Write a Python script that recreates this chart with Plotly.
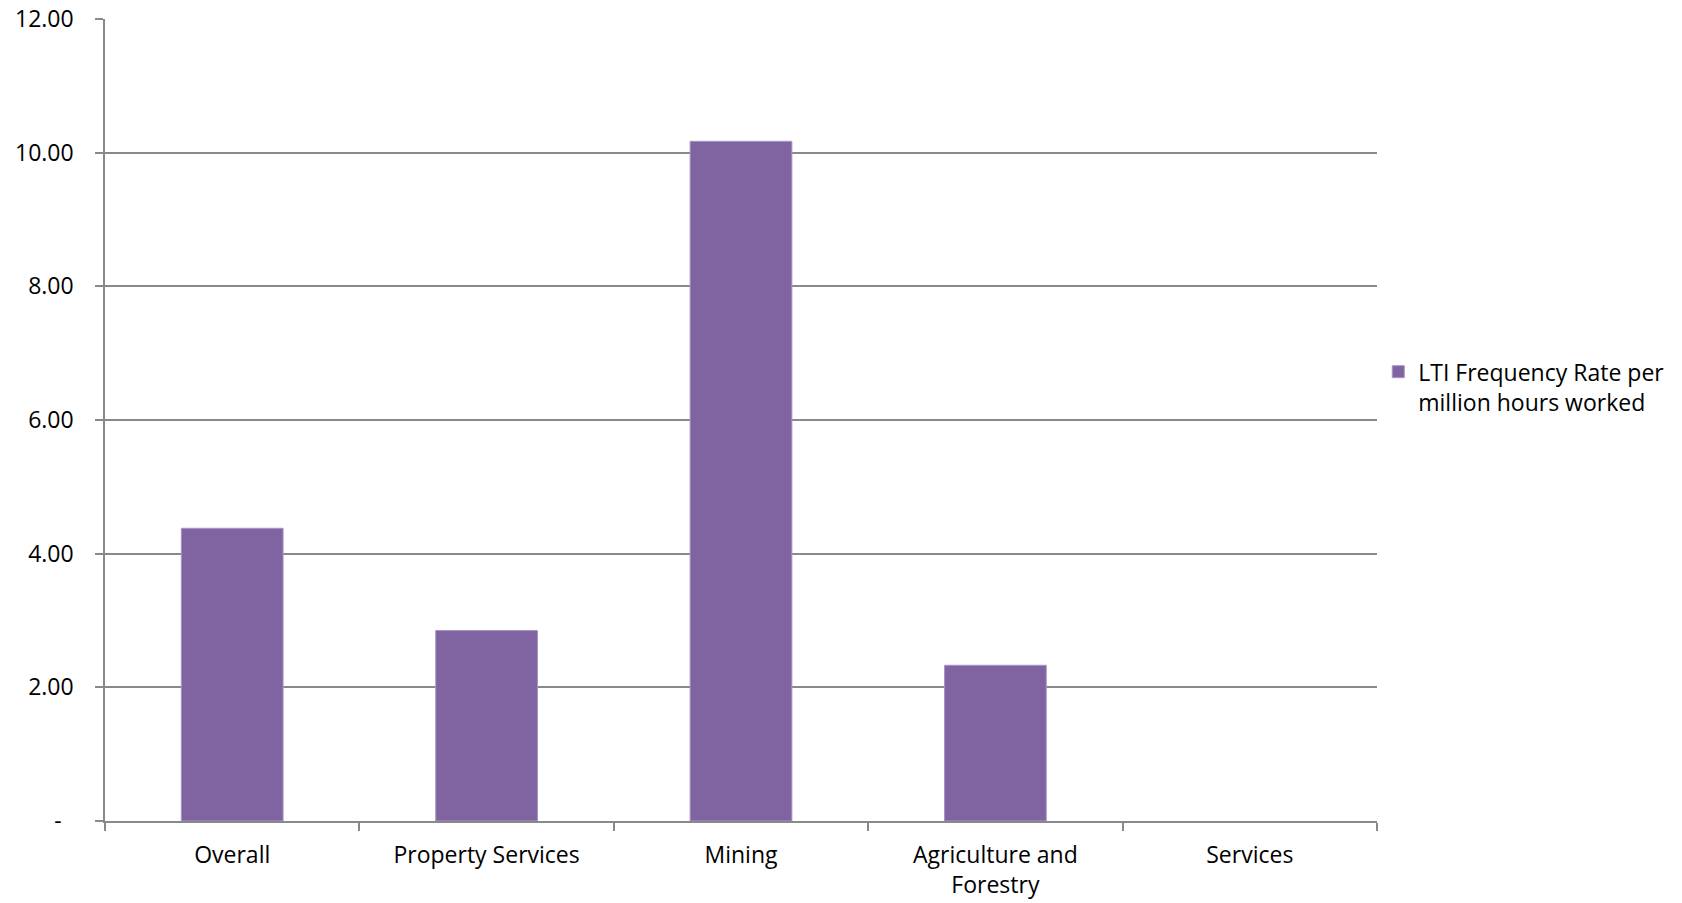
import plotly.graph_objects as go

categories = ["Overall", "Property Services", "Mining", "Agriculture and<br>Forestry", "Services"]
lti_rate = [4.38, 2.85, 10.17, 2.33, 0.0]
series_name = "LTI Frequency Rate per<br>million hours worked"
y_tickvals = [0, 2, 4, 6, 8, 10, 12]
y_ticktext = ["-\u00a0\u00a0", "2.00", "4.00", "6.00", "8.00", "10.00", "12.00"]

FONT = "Open Sans"
FS = 23
GRID = "#898989"

fig = go.Figure()
fig.add_trace(go.Bar(
    x=categories, y=lti_rate, name=series_name,
    marker=dict(color="#8064A2",
                line=dict(color="#A896C4", width=[1 if v > 0 else 0 for v in lti_rate])),
    showlegend=True,
))

fig.update_layout(
    width=1682, height=903,
    paper_bgcolor="white", plot_bgcolor="white",
    margin=dict(l=105, r=305, t=19, b=82, autoexpand=False),
    bargap=0.6,
    font=dict(family=FONT, size=FS, color="#000000"),
    showlegend=True,
    legend=dict(
        x=1.001, xanchor="left", y=0.587, yanchor="top",
        valign="top", font=dict(family=FONT, size=FS, color="#000000"),
        bgcolor="rgba(0,0,0,0)", itemclick=False,
    ),
)
fig.update_xaxes(
    type="category", tickson="boundaries", ticks="outside", ticklen=8,
    tickcolor=GRID, tickwidth=1.5, showline=True, linecolor=GRID, linewidth=1.5,
    showgrid=False, mirror=False, tickfont=dict(family=FONT, size=FS),
    ticklabelstandoff=13, automargin=False,
)
fig.update_yaxes(
    range=[0, 12], tickvals=y_tickvals, ticktext=y_ticktext,
    ticks="outside", ticklen=8, tickcolor=GRID, tickwidth=1.5,
    showline=True, linecolor=GRID, linewidth=1.5,
    showgrid=True, gridcolor=GRID, gridwidth=1.5, zeroline=False,
    tickfont=dict(family=FONT, size=FS), ticklabelstandoff=17, automargin=False,
)

fig.write_html(
    "out.html",
    config={"displayModeBar": False},
    post_script="document.body.style.margin='0';document.body.style.overflow='hidden';",
)
